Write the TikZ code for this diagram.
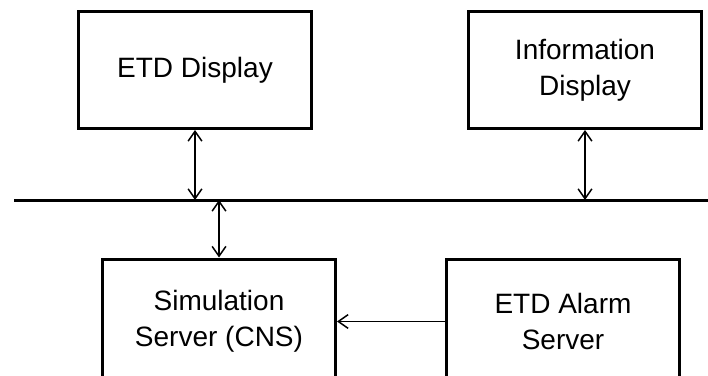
\documentclass[tikz,border=0pt]{standalone}
\usepackage{fontspec}
\setmainfont{Liberation Sans}
\usetikzlibrary{arrows.meta}
\tikzset{
  unit/.style={draw, line width=3pt, minimum width=233pt, minimum height=117pt,
    inner sep=0pt, align=center, font=\fontsize{28}{36}\selectfont},
  server/.style={unit, minimum height=125pt},
  link/.style={line width=1.5pt, {Straight Barb[angle=70:12pt]}-{Straight Barb[angle=70:12pt]}},
  oneway/.style={line width=1.5pt, -{Straight Barb[angle=70:12pt]}},
  bus/.style={line width=3pt}
}
\begin{document}
\begin{tikzpicture}[x=1pt, y=1pt]
        \clip (0,0) rectangle (708,375);
        \node (etd) [unit] at (195, 305) {ETD Display};
        \node (info) [unit] at (585, 305) {Information\\Display};
        \node (sim) [server] at (219, 53.5) {Simulation\\Server (CNS)};
        \node (alarm) [server] at (563, 53.5) {ETD Alarm\\Server};
        \coordinate (busl) at (14, 175);
        \coordinate (busr) at (712, 175);
        \draw [bus] (busl) -- (busr);
        \draw (etd.south) edge [link] (etd.south |- busl);
        \draw (info.south) edge [link] (info.south |- busl);
        \draw (sim.north |- busl) edge [link] (sim.north);
        \draw (alarm.west) edge [oneway] (alarm.west -| sim.east);
\end{tikzpicture}
\end{document}
